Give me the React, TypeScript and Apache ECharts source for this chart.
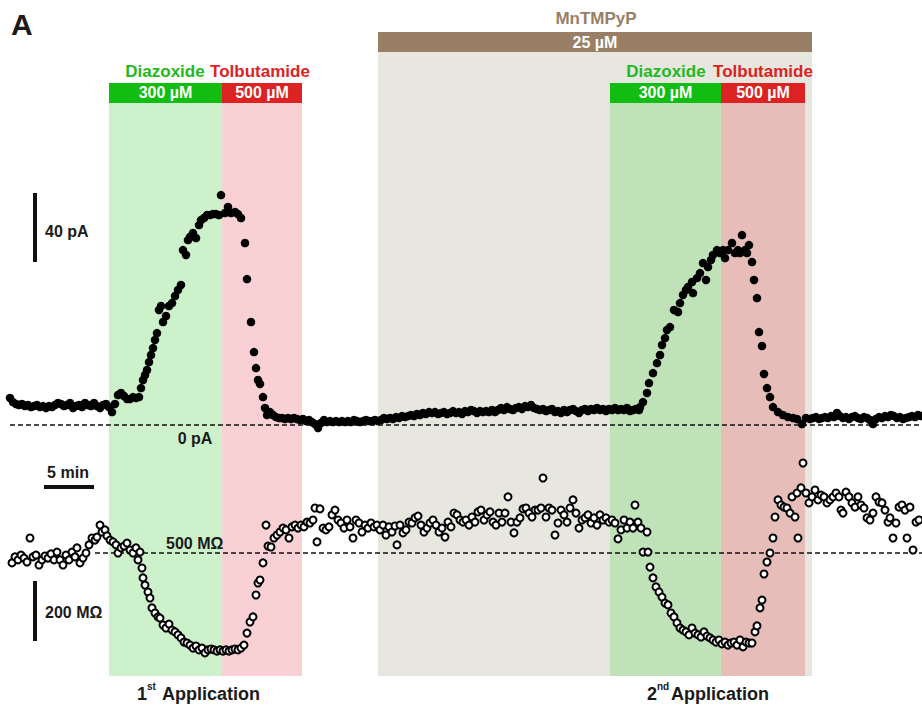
import React, { useEffect, useRef } from "react";
import * as echarts from "echarts";

// ---------- Data (time in minutes, current in pA, resistance in MΩ) ----------
const currentBefore: [number, number][] = [
  [1.0, 15.7], [1.3, 13.3], [1.6, 12.2], [1.9, 11.6], [2.2, 12.2], [2.5, 11.0], [2.8, 11.6], [3.1, 10.4], [3.4, 11.0], [3.7, 11.6],
  [4.0, 10.4], [4.3, 11.0], [4.6, 9.9], [4.9, 11.0], [5.2, 10.4], [5.5, 11.6], [5.8, 12.8], [6.1, 12.2], [6.4, 11.0], [6.7, 11.6],
  [7.0, 12.8], [7.3, 9.9], [7.6, 11.0], [7.9, 11.6], [8.2, 10.4], [8.5, 12.8], [8.8, 11.6], [9.1, 11.0], [9.4, 12.8], [9.7, 11.0],
  [10.0, 9.9], [10.3, 11.6], [10.6, 12.2],
];
const currentApp1: [number, number][] = [
  [10.9, 10.4], [11.2, 7.5], [11.5, 12.2], [11.8, 17.4], [12.1, 18.6], [12.4, 16.8], [12.7, 15.1], [13.0, 15.1], [13.3, 16.2],
  [13.6, 15.7], [13.9, 16.2], [14.1, 21.4], [14.3, 26.1], [14.5, 29.0], [14.7, 31.9], [14.9, 36.5], [15.1, 40.6], [15.3, 44.6],
  [15.5, 49.3], [15.7, 53.3], [15.9, 66.7], [16.1, 69.0], [16.3, 59.7], [16.6, 63.2], [16.9, 69.0], [17.2, 70.7], [17.5, 74.8],
  [17.8, 78.3], [18.1, 81.2], [18.3, 101.4], [18.6, 98.6], [18.8, 107.2], [19.0, 109.0], [19.3, 111.3], [19.6, 108.4],
  [19.9, 115.9], [20.1, 118.8], [20.4, 120.0], [20.7, 121.7], [21.0, 121.7], [21.3, 122.3], [21.6, 122.3], [21.9, 121.7],
  [22.1, 133.3], [22.5, 122.9], [22.8, 126.4], [23.1, 122.9], [23.5, 123.5], [23.8, 122.3], [24.1, 120.0], [24.5, 105.5],
  [24.7, 84.6], [25.1, 59.7], [25.4, 42.3], [25.6, 33.0], [25.8, 26.1], [26.0, 23.8], [26.3, 16.2], [26.5, 9.9], [26.7, 5.8],
];
const currentMid: [number, number][] = [
  [27.0, 7.5], [27.3, 5.8], [27.6, 4.6], [27.9, 4.1], [28.2, 4.1], [28.5, 3.5], [28.8, 4.1], [29.1, 3.5], [29.4, 4.1], [29.7, 3.5],
  [30.0, 2.9], [30.3, 3.5], [30.6, 2.3], [30.9, 2.9], [31.2, 1.7], [31.5, 0.6], [31.8, -1.7], [32.1, 1.2], [32.4, 2.9], [32.7, 1.7],
  [33.0, 2.3], [33.3, 1.7], [33.6, 2.3], [33.9, 1.7], [34.2, 2.3], [34.5, 1.7], [34.8, 2.3], [35.1, 1.7], [35.4, 2.9], [35.7, 2.3],
  [36.0, 1.7], [36.3, 2.3], [36.6, 2.9], [36.9, 2.3], [37.2, 2.3], [37.5, 2.9], [37.8, 2.3], [38.1, 2.9], [38.4, 4.1], [38.7, 3.5],
  [39.0, 4.1], [39.3, 3.5], [39.6, 4.6], [39.9, 4.1], [40.2, 5.2], [40.5, 4.6], [40.8, 5.2], [41.1, 5.8], [41.4, 5.2], [41.7, 6.4],
  [42.0, 5.8], [42.3, 7.0], [42.6, 6.4], [42.9, 7.5], [43.2, 7.0], [43.5, 7.5], [43.8, 6.4], [44.1, 7.0], [44.4, 7.5], [44.7, 6.4],
  [45.0, 7.0], [45.3, 8.1], [45.6, 7.0], [45.9, 7.5], [46.2, 6.4], [46.5, 8.1], [46.8, 7.5], [47.1, 8.7], [47.4, 8.1], [47.7, 7.0],
  [48.0, 8.1], [48.3, 7.5], [48.6, 8.1], [48.9, 7.5], [49.2, 8.7], [49.5, 7.5], [49.8, 8.7], [50.1, 9.9], [50.4, 8.7], [50.7, 10.4],
  [51.0, 9.3], [51.3, 8.7], [51.6, 9.9], [51.9, 10.4], [52.2, 9.3], [52.5, 11.0], [52.8, 10.4], [53.1, 11.6], [53.4, 9.9], [53.7, 9.3],
  [54.0, 8.7], [54.3, 9.3], [54.6, 8.1], [54.9, 8.7], [55.2, 9.3], [55.5, 7.5], [55.8, 8.1], [56.1, 7.0], [56.4, 8.7], [56.7, 7.5],
  [57.0, 8.7], [57.3, 9.3], [57.6, 8.1], [57.9, 7.0], [58.2, 8.7], [58.5, 9.3], [58.8, 8.1], [59.1, 9.3], [59.4, 8.7], [59.7, 9.9],
  [60.0, 8.7], [60.3, 9.3], [60.6, 8.1], [60.9, 9.3], [61.2, 8.7], [61.5, 9.9], [61.8, 8.7], [62.1, 9.3], [62.4, 8.7], [62.7, 9.9],
  [63.0, 8.1], [63.3, 8.7], [63.6, 9.3], [63.9, 8.7],
];
const currentApp2: [number, number][] = [
  [64.0, 10.4], [64.3, 13.3], [64.7, 18.6], [64.9, 24.3], [65.3, 30.1], [65.7, 35.9], [66.0, 40.6], [66.2, 46.4], [66.5, 50.4],
  [66.7, 55.1], [67.0, 56.8], [67.4, 66.7], [67.8, 65.5], [68.0, 70.7], [68.3, 75.4], [68.6, 78.3], [68.8, 80.0], [69.2, 82.9],
  [69.3, 76.5], [69.7, 85.2], [70.0, 88.1], [70.3, 93.9], [70.6, 84.1], [70.8, 91.6], [71.1, 95.7], [71.3, 98.6], [71.7, 101.4],
  [72.0, 99.7], [72.3, 101.4], [72.5, 96.8], [72.8, 101.4], [73.2, 105.5], [73.5, 99.7], [73.8, 101.4], [74.0, 99.7],
  [74.2, 110.1], [74.5, 101.4], [74.7, 99.7], [74.9, 104.3], [75.2, 94.5], [75.4, 84.1], [75.7, 73.6], [75.9, 53.9],
  [76.2, 45.8], [76.4, 29.6], [76.7, 21.4], [77.0, 16.2], [77.3, 10.4], [77.8, 7.5], [78.3, 5.8], [78.8, 4.6], [79.3, 4.1], [79.7, 3.5],
];
const currentWash: [number, number][] = [
  [80.2, 0.6], [80.6, 4.1], [81.0, 3.5], [81.3, 4.1], [81.6, 4.6], [81.9, 3.5], [82.2, 4.1], [82.5, 4.6], [82.8, 4.1], [83.1, 5.2],
  [83.4, 4.6], [83.7, 7.0], [84.0, 5.2], [84.3, 4.1], [84.6, 4.6], [84.9, 3.5], [85.2, 4.6], [85.5, 5.2], [85.8, 4.1], [86.1, 3.5],
  [86.4, 4.6], [86.7, 4.1], [87.0, 2.9], [87.3, 0.6], [87.6, 3.5], [87.9, 4.6], [88.2, 4.1], [88.5, 5.2], [88.8, 4.6], [89.1, 5.8],
  [89.4, 5.2], [89.7, 4.1], [90.0, 4.6], [90.3, 3.5], [90.6, 4.1], [90.9, 4.6], [91.2, 5.2], [91.5, 4.6], [91.8, 5.8], [92.1, 5.2],
];

const resBefore: [number, number][] = [
  [1.2, 467], [1.5, 487], [1.8, 477], [2.1, 493], [2.4, 483], [2.7, 470], [3.0, 550], [3.3, 487], [3.6, 493], [3.9, 460],
  [4.2, 477], [4.5, 490], [4.8, 483], [5.1, 497], [5.4, 477], [5.7, 503], [6.0, 477], [6.3, 460], [6.6, 493], [6.9, 477],
  [7.2, 503], [7.5, 487], [7.7, 517], [8.0, 467], [8.3, 483], [8.6, 500], [8.9, 527], [9.2, 550], [9.5, 543], [9.7, 553],
  [10.0, 593], [10.2, 570], [10.5, 577], [10.7, 557],
];
const resApp1: [number, number][] = [
  [11.0, 543], [11.3, 537], [11.6, 527], [11.8, 500], [12.1, 517], [12.4, 523], [12.7, 533], [13.0, 510], [13.3, 500], [13.6, 517],
  [13.8, 477], [14.0, 503], [14.2, 450], [14.3, 417], [14.5, 393], [14.8, 370], [15.0, 350], [15.2, 317], [15.5, 300], [15.8, 287],
  [16.0, 283], [16.3, 260], [16.6, 250], [16.9, 263], [17.2, 243], [17.5, 237], [17.8, 227], [18.1, 217], [18.4, 203], [18.7, 200],
  [19.0, 193], [19.3, 183], [19.6, 190], [19.9, 177], [20.2, 183], [20.5, 167], [20.8, 177], [21.1, 180], [21.4, 177], [21.7, 173],
  [22.0, 177], [22.3, 173], [22.6, 177], [22.9, 173], [23.2, 177], [23.5, 180], [23.8, 177], [24.1, 183], [24.4, 193], [24.7, 233],
  [25.0, 270], [25.3, 287], [25.6, 360], [25.8, 400], [26.0, 410], [26.3, 467], [26.6, 593], [26.8, 523], [27.1, 520], [27.4, 550],
  [27.7, 560], [28.0, 570], [28.3, 583], [28.6, 577], [28.9, 550], [29.2, 587], [29.5, 593], [29.8, 583],
];
const resMid: [number, number][] = [
  [30.1, 593], [30.4, 587], [30.7, 603], [31.0, 600], [31.3, 610], [31.5, 650], [31.7, 537], [32.0, 647], [32.3, 583], [32.6, 577],
  [32.9, 587], [33.2, 627], [33.5, 643], [33.8, 610], [34.1, 600], [34.4, 583], [34.7, 610], [35.0, 587], [35.3, 550], [35.6, 610],
  [35.9, 600], [36.2, 570], [36.5, 593], [36.8, 583], [37.1, 600], [37.4, 587], [37.7, 593], [38.0, 577], [38.3, 593], [38.6, 560],
  [38.9, 587], [39.2, 570], [39.5, 590], [39.7, 527], [40.0, 593], [40.3, 567], [40.6, 577], [40.9, 603], [41.2, 600], [41.5, 617],
  [41.8, 623], [42.1, 593], [42.4, 570], [42.7, 583], [43.0, 600], [43.3, 610], [43.6, 593], [43.9, 570], [44.2, 583], [44.5, 553],
  [44.8, 603], [45.1, 587], [45.4, 633], [45.7, 627], [46.0, 610], [46.3, 603], [46.6, 610], [46.9, 593], [47.2, 620], [47.5, 603],
  [47.8, 637], [48.1, 643], [48.4, 610], [48.7, 627], [49.0, 637], [49.3, 603], [49.6, 593], [49.9, 633], [50.2, 603], [50.5, 633],
  [50.8, 687], [51.1, 603], [51.4, 567], [51.7, 603], [52.0, 617], [52.3, 647], [52.6, 650], [52.9, 633], [53.2, 620], [53.5, 643],
  [53.8, 643], [54.1, 650], [54.3, 750], [54.6, 620], [54.9, 650], [55.2, 643], [55.5, 560], [55.8, 600], [56.1, 643], [56.4, 627],
  [56.7, 603], [57.0, 650], [57.3, 677], [57.6, 633], [57.9, 583], [58.2, 610], [58.5, 617], [58.8, 627], [59.1, 600], [59.4, 617],
  [59.7, 593], [60.0, 627], [60.3, 610], [60.6, 617], [60.9, 603], [61.2, 610], [61.5, 600], [61.8, 547], [62.1, 577], [62.4, 610],
  [62.7, 583], [63.0, 603], [63.3, 583], [63.5, 660], [63.8, 603], [64.1, 583],
];
const resApp2: [number, number][] = [
  [64.3, 503], [64.7, 570], [64.8, 503], [65.0, 453], [65.3, 417], [65.6, 387], [65.9, 370], [66.2, 353], [66.5, 333], [66.8, 327],
  [67.1, 300], [67.4, 287], [67.7, 267], [68.0, 250], [68.3, 243], [68.6, 237], [68.9, 227], [69.2, 250], [69.5, 233], [69.8, 227],
  [70.1, 220], [70.4, 237], [70.7, 223], [71.0, 217], [71.3, 210], [71.6, 203], [71.9, 210], [72.2, 197], [72.5, 203], [72.8, 193],
  [73.1, 200], [73.4, 203], [73.7, 193], [74.0, 210], [74.3, 187], [74.6, 203], [74.9, 200], [75.2, 200], [75.5, 237], [75.7, 257],
  [76.0, 317], [76.2, 343], [76.4, 430], [76.7, 470], [77.0, 500], [77.3, 550], [77.5, 620], [77.8, 677], [78.1, 660], [78.4, 653],
  [78.7, 650], [79.0, 633], [79.2, 687], [79.5, 620], [79.7, 700], [79.8, 550], [80.1, 717], [80.3, 800],
];
const resWash: [number, number][] = [
  [80.6, 700], [80.9, 667], [81.2, 687], [81.5, 710], [81.8, 677], [82.1, 693], [82.4, 687], [82.7, 667], [83.0, 677], [83.3, 687],
  [83.6, 700], [83.9, 687], [84.1, 643], [84.3, 633], [84.6, 703], [84.9, 687], [85.2, 667], [85.5, 653], [85.8, 687], [86.1, 660],
  [86.4, 650], [86.7, 617], [87.0, 610], [87.3, 633], [87.6, 687], [87.9, 670], [88.2, 667], [88.5, 643], [88.8, 603], [89.0, 617],
  [89.3, 550], [89.6, 600], [89.9, 653], [90.2, 660], [90.5, 643], [90.7, 550], [91.0, 653], [91.3, 510], [91.6, 603], [91.9, 610],
];

// Drug application windows (minutes)
const diazoxide1 = [10.9, 22.2];
const tolbutamide1 = [22.2, 30.2];
const mnTMPyP = [37.8, 81.2];
const diazoxide2 = [61.0, 72.1];
const tolbutamide2 = [72.1, 80.5];

// Scale bars
const scaleCurrent = 40; // pA
const scaleTime = 5; // min
const scaleRes = 200; // MΩ
const zeroCurrent = 0; // pA
const refResistance = 500; // MΩ

// ---------- Layout constants ----------
const W = 922;
const H = 705;
const T_MIN = 0, T_MAX = 92.2;
const I_MIN = -162.3, I_MAX = 246.4;
const R_MIN = -6.7, R_MAX = 2343.3;
const FONT = '"Liberation Sans", Arial, Helvetica, sans-serif';

const SHADE_BOTTOM = -145.5;
const SHADE_TOP = 186.7;
const GREY_TOP = 216.2;
const BAR_TOP = 198.3;
const BROWN_TOP = 227.8;

const C = {
  greenShade: "#cdf1cb",
  redShade: "#f9d0d3",
  grey: "#e7e7df",
  greenShade2: "#bfe2b8",
  redShade2: "#e6bdb8",
  greenBar: "#10bd10",
  redBar: "#dc2222",
  brown: "#9a7f67",
  greenText: "#1fb81f",
  redText: "#dc2222",
};

function area(x: number[], y0: number, y1: number, color: string, label?: string) {
  return [
    {
      coord: [x[0], y1],
      itemStyle: { color, opacity: 1, borderWidth: 0 },
      label: label
        ? {
            show: true,
            position: "inside",
            formatter: label,
            color: "#fff",
            fontWeight: "bold",
            fontSize: 16,
            fontFamily: FONT,
          }
        : { show: false },
    },
    { coord: [x[1], y0] },
  ];
}

function txt(text: string, x: number, y: number, opts: any = {}) {
  return {
    type: "text",
    x,
    y,
    silent: true,
    z: 100,
    style: {
      text,
      fill: opts.fill || "#1a1a1a",
      font: `bold ${opts.size || 16}px ${FONT}`,
      textAlign: opts.align || "left",
      textVerticalAlign: "middle",
    },
  };
}

export default function App() {
  const ref = useRef<HTMLDivElement>(null);
  useEffect(() => {
    if (!ref.current) return;
    const chart = echarts.init(ref.current, null, { renderer: "svg", width: W, height: H });
    const option: any = {
      animation: false,
      backgroundColor: "#ffffff",
      grid: { left: 0, right: 0, top: 0, bottom: 0, containLabel: false },
      xAxis: { type: "value", min: T_MIN, max: T_MAX, show: false },
      yAxis: [
        { type: "value", min: I_MIN, max: I_MAX, show: false },
        { type: "value", min: R_MIN, max: R_MAX, show: false },
      ],
      series: [
        {
          type: "line",
          data: [],
          silent: true,
          z: 0,
          markArea: {
            silent: true,
            data: [
              area(mnTMPyP, SHADE_BOTTOM, GREY_TOP, C.grey),
              area(diazoxide1, SHADE_BOTTOM, SHADE_TOP, C.greenShade),
              area(tolbutamide1, SHADE_BOTTOM, SHADE_TOP, C.redShade),
              area(diazoxide2, SHADE_BOTTOM, SHADE_TOP, C.greenShade2),
              area(tolbutamide2, SHADE_BOTTOM, SHADE_TOP, C.redShade2),
              area(diazoxide1, SHADE_TOP, BAR_TOP, C.greenBar, "300 µM"),
              area(tolbutamide1, SHADE_TOP, BAR_TOP, C.redBar, "500 µM"),
              area(diazoxide2, SHADE_TOP, BAR_TOP, C.greenBar, "300 µM"),
              area(tolbutamide2, SHADE_TOP, BAR_TOP, C.redBar, "500 µM"),
              area(mnTMPyP, GREY_TOP, BROWN_TOP, C.brown, "25 µM"),
            ],
          },
        },
        {
          type: "line",
          silent: true,
          symbol: "none",
          z: 3,
          data: [[1.0, zeroCurrent], [T_MAX, zeroCurrent]],
          lineStyle: { color: "#111", width: 1.5, type: [5, 3] },
        },
        {
          type: "line",
          silent: true,
          symbol: "none",
          yAxisIndex: 1,
          z: 3,
          data: [[9.5, refResistance], [T_MAX, refResistance]],
          lineStyle: { color: "#111", width: 1.5, type: [5, 3] },
        },
        {
          type: "line",
          silent: true,
          symbol: "none",
          z: 3,
          data: [[3.5, 94.5], [3.5, 94.5 + scaleCurrent]],
          lineStyle: { color: "#111", width: 4 },
        },
        {
          type: "line",
          silent: true,
          symbol: "none",
          z: 3,
          data: [[4.4, -35.9], [4.4 + scaleTime, -35.9]],
          lineStyle: { color: "#111", width: 4 },
        },
        {
          type: "line",
          silent: true,
          symbol: "none",
          yAxisIndex: 1,
          z: 3,
          data: [[3.5, 206.7], [3.5, 206.7 + scaleRes]],
          lineStyle: { color: "#111", width: 4 },
        },
        {
          type: "scatter",
          silent: true,
          z: 5,
          symbol: "circle",
          symbolSize: 8.5,
          itemStyle: { color: "#000", opacity: 1 },
          data: [...currentBefore, ...currentApp1, ...currentMid, ...currentApp2, ...currentWash],
        },
        {
          type: "scatter",
          silent: true,
          z: 5,
          yAxisIndex: 1,
          symbol: "circle",
          symbolSize: 7,
          itemStyle: { color: "#fff", borderColor: "#000", borderWidth: 2, opacity: 1 },
          data: [...resBefore, ...resApp1, ...resMid, ...resApp2, ...resWash],
        },
      ],
      graphic: [
        txt("A", 11, 24, { size: 30 }),
        txt("Diazoxide", 165, 71, { size: 17, align: "center", fill: C.greenText }),
        txt("Tolbutamide", 260, 71, { size: 17, align: "center", fill: C.redText }),
        txt("Diazoxide", 666, 71, { size: 17, align: "center", fill: C.greenText }),
        txt("Tolbutamide", 763, 71, { size: 17, align: "center", fill: C.redText }),
        txt("MnTMPyP", 596, 18, { size: 17, align: "center", fill: C.brown }),
        txt("40 pA", 45, 231, { size: 16 }),
        txt("0 pA", 195, 438, { size: 16, align: "center" }),
        txt("5 min", 68, 472, { size: 16, align: "center" }),
        txt("500 MΩ", 166, 543, { size: 16 }),
        txt("200 MΩ", 45, 612, { size: 16 }),
        txt("1", 137, 694, { size: 18 }),
        txt("st", 147, 686, { size: 10 }),
        txt("Application", 162, 694, { size: 18 }),
        txt("2", 647, 694, { size: 18 }),
        txt("nd", 657, 686, { size: 10 }),
        txt("Application", 671, 694, { size: 18 }),
      ],
    };
    chart.setOption(option);
    return () => chart.dispose();
  }, []);
  return (
    <div
      ref={ref}
      style={{ position: "absolute", left: 0, top: 0, width: W, height: H, background: "#fff" }}
    />
  );
}
